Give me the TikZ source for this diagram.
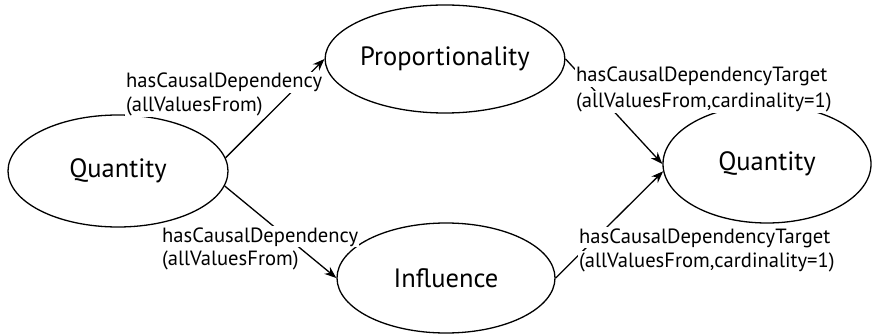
\documentclass[tikz,border=0pt]{standalone}
\usepackage{fontspec}
\setmainfont{PT Sans}
\usetikzlibrary{shapes.geometric,arrows.meta}
\begin{document}
\begin{tikzpicture}[x=1pt,y=-1pt,
  concept/.style={draw,ellipse,line width=1.3pt,inner sep=0pt,
    font=\fontsize{26.5}{31}\selectfont},
  rel/.style={fill=white,inner sep=1pt,anchor=base west,
    font=\fontsize{20.6}{24}\selectfont},
  link/.style={line width=1.3pt,-{Stealth[length=12pt,width=9pt]}}]
\useasboundingbox (0,0) rectangle (874,334);
% concepts
\node[concept,minimum width=220pt,minimum height=112pt] (q1)   at (118,171) {Quantity};
\node[concept,minimum width=220pt,minimum height=108pt] (prop) at (445,59)  {Proportionality};
\node[concept,minimum width=218pt,minimum height=110pt] (infl) at (446,278) {Influence};
\node[concept,minimum width=208pt,minimum height=118pt] (q2)   at (767,164) {Quantity};
% relations
\draw[link] (q1.7)     -- (prop.west);
\draw[link] (q1.-8)    -- (infl.west);
\draw[link] (prop.east) -- (q2.180);
\draw[link] (infl.east) -- (q2.184);
% relation labels
\node[rel] (l1a) at (125,88)  {hasCausalDependency};
\node[rel] (l1b) at (125,111) {(allValuesFrom)};
\node[rel] (l2a) at (161,242) {hasCausalDependency};
\node[rel] (l2b) at (161,265) {(allValuesFrom)};
\node[rel] (l3a) at (575,82)  {hasCausalDependencyTarget};
\node[rel] (l3b) at (575,107) {(allValuesFrom,cardinality=1)};
\node[rel] (l4a) at (578,243) {hasCausalDependencyTarget};
\node[rel] (l4b) at (578,267) {(allValuesFrom,cardinality=1)};
\end{tikzpicture}
\end{document}
